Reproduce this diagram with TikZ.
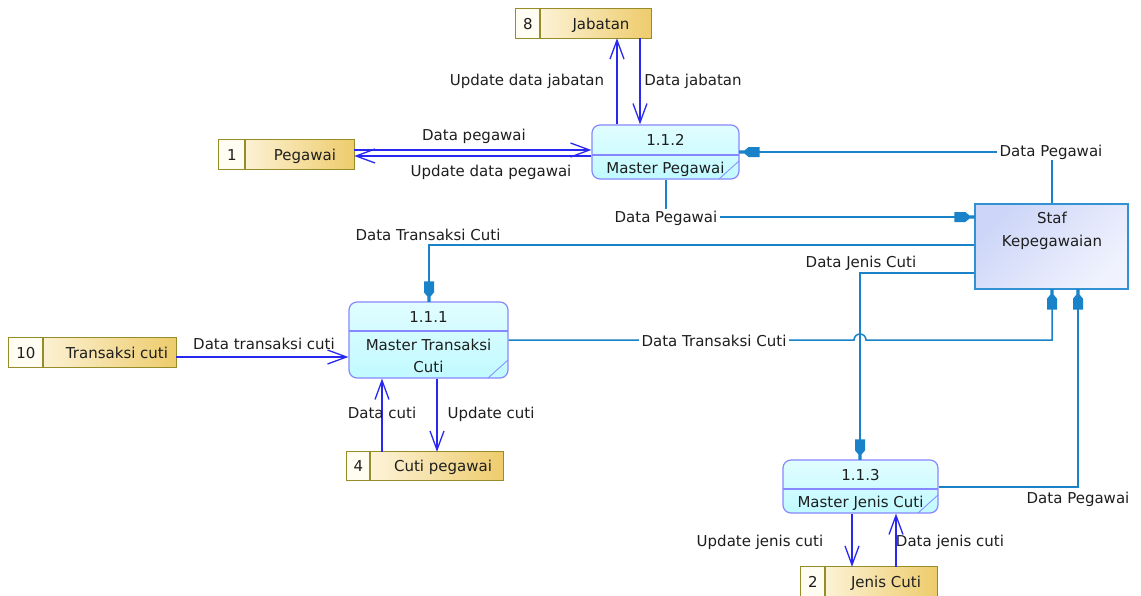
\documentclass[tikz,border=0pt]{standalone}
\usepackage{fontspec}
\setmainfont{DejaVu Sans}
\usetikzlibrary{arrows.meta,calc}

\definecolor{flowblue}{RGB}{40,40,240}
\definecolor{linkteal}{RGB}{25,130,200}
\definecolor{procedge}{RGB}{135,135,255}
\definecolor{procfill}{RGB}{192,250,255}
\definecolor{procfilltop}{RGB}{225,253,255}
\definecolor{storeedge}{RGB}{150,140,40}
\definecolor{storeleft}{RGB}{255,250,236}
\definecolor{storeright}{RGB}{238,204,108}
\definecolor{storenum}{RGB}{255,252,242}
\definecolor{entedge}{RGB}{50,145,210}
\definecolor{entfillA}{RGB}{205,214,248}
\definecolor{entfillB}{RGB}{240,242,253}
\definecolor{ink}{RGB}{30,30,30}

% stepped head of the flows that touch the external entity
\pgfdeclarearrow{
  name = DFDtip,
  setup code = {
    \pgfarrowssettipend{0pt}
    \pgfarrowssetbackend{-20pt}
    \pgfarrowssetlineend{-12pt}
  },
  drawing code = {
    \pgfsetfillcolor{linkteal}
    \pgfpathmoveto{\pgfpoint{0.5pt}{1.6pt}}
    \pgfpathlineto{\pgfpoint{-5pt}{1.6pt}}
    \pgfpathlineto{\pgfpoint{-9pt}{5pt}}
    \pgfpathlineto{\pgfpoint{-20pt}{5pt}}
    \pgfpathlineto{\pgfpoint{-20pt}{-5pt}}
    \pgfpathlineto{\pgfpoint{-9pt}{-5pt}}
    \pgfpathlineto{\pgfpoint{-5pt}{-1.6pt}}
    \pgfpathlineto{\pgfpoint{0.5pt}{-1.6pt}}
    \pgfpathclose
    \pgfusepathqfill
  }
}

\tikzset{
  lbl/.style={font=\fontsize{15}{17}\selectfont, text=ink, inner sep=1.5pt,
              text height=11pt, text depth=0pt},
  wlbl/.style={lbl, fill=white, inner sep=3pt},
  proc/.style={draw=procedge, line width=1.2pt, rounded corners=8pt,
               top color=procfilltop, bottom color=procfill, inner sep=0pt},
  procline/.style={draw=procedge, line width=1.1pt},
  store/.style={left color=storeleft, right color=storeright, inner sep=0pt},
  storeline/.style={draw=storeedge, line width=1.2pt},
  entity/.style={draw=entedge, line width=1.3pt, top color=entfillA,
                 bottom color=entfillB, shading angle=45, inner sep=0pt},
  flow/.style={draw=flowblue, line width=1.6pt,
               -{Straight Barb[length=19pt,width=14pt,line width=1.3pt]}},
  link/.style={draw=linkteal, line width=1.5pt, -DFDtip},
}

% data store: name, x1, y1, x2, y2, divider x, number, label, label x
\newcommand\dstore[9]{%
  \node[store, minimum width={(#4-#2)*1pt}, minimum height={(#5-#3)*1pt}]
       (#1) at ({(#2+#4)/2},{(#3+#5)/2}) {};
  \fill[storenum] (#2,#3) rectangle (#6,#5);
  \draw[storeline] (#1.north west) rectangle (#1.south east);
  \draw[storeline] (#6,#3) -- (#6,#5);
  \node[lbl] (#1-num) at ({(#2+#6)/2},{(#3+#5)/2}) {#7};
  \node[lbl] (#1-txt) at (#9,{(#3+#5)/2}) {#8};
}

% process: name, x1, y1, x2, y2, divider y, number, label, label y
\newcommand\dproc[9]{%
  \node[proc, minimum width={(#4-#2)*1pt}, minimum height={(#5-#3)*1pt}]
       (#1) at ({(#2+#4)/2},{(#3+#5)/2}) {};
  \draw[procline] (#2,#6) -- (#4,#6);
  \draw[procedge, line width=0.8pt] (#4-20,#5) -- (#4,#5-18);
  \node[lbl] (#1-num) at ({(#2+#4)/2},{(#3+#6)/2}) {#7};
  \node[lbl, align=center, font=\fontsize{15}{22}\selectfont]
       (#1-txt) at ({(#2+#4)/2},#9) {#8};
}

\begin{document}
\begin{tikzpicture}[x=1pt, y=-1pt]
\useasboundingbox[fill=white] (0,0) rectangle (1141,595);

% data stores
\dstore{jab}{516}{9}{651}{38}{540}{8}{Jabatan}{601}
\dstore{peg}{219}{140}{354}{169}{245}{1}{Pegawai}{305}
\dstore{trc}{9}{338}{176}{367}{43}{10}{Transaksi cuti}{117}
\dstore{cp}{347}{452}{503}{480}{370}{4}{Cuti pegawai}{443}
\dstore{jc}{801}{567}{937}{597}{825}{2}{Jenis Cuti}{886}

% processes
\dproc{mp}{592}{125}{739}{179}{155}{1.1.2}{Master Pegawai}{168}
\dproc{mt}{349}{302}{508}{378}{331}{1.1.1}{Master Transaksi\\Cuti}{367}
\dproc{mj}{783}{460}{938}{513}{489}{1.1.3}{Master Jenis Cuti}{502}

% external entity
\node[entity, minimum width=153pt, minimum height=85pt]
     (staf) at (1051.5,246.5) {};
\node[lbl, align=center, font=\fontsize{15}{23}\selectfont]
     (staf-txt) at (1052,241) {Staf\\Kepegawaian};

% flows between processes and stores
\draw[flow] (peg.east |- 0,150) -- (mp.west |- 0,150);
\draw[flow] (mp.west |- 0,156) -- (peg.east |- 0,156);
\draw[flow] (mp.north -| 617,0) -- (jab.south -| 617,0);
\draw[flow] (jab.south -| 640,0) -- (mp.north -| 640,0);
\draw[flow] (trc.east |- 0,357) -- (mt.west |- 0,357);
\draw[flow] (cp.north -| 382,0) -- (mt.south -| 382,0);
\draw[flow] (mt.south -| 437,0) -- (cp.north -| 437,0);
\draw[flow] (mj.south -| 852,0) -- (jc.north -| 852,0);
\draw[flow] (jc.north -| 896,0) -- (mj.south -| 896,0);

% flows to and from the external entity
\draw[link] (staf.north -| 1052,0) |- (mp.east |- 0,152);
\draw[link] (mp.south -| 666,0) |- (staf.west |- 0,217);
\draw[link] (staf.west |- 0,245) -| (mt.north -| 429,0);
\draw[link] (staf.west |- 0,273) -| (mj.north -| 860,0);
\draw[link] (mt.east |- 0,340) -- (854,340)
            arc[start angle=180, end angle=0, radius=6pt] -- (1052,340)
            -- (staf.south -| 1052,0);
\draw[link] (mj.east |- 0,487) -| (staf.south -| 1078,0);

% flow labels
\node[lbl] (l-upjab) at (527,80) {Update data jabatan};
\node[lbl] (l-jab) at (693,80) {Data jabatan};
\node[lbl] (l-peg) at (474,135) {Data pegawai};
\node[lbl] (l-uppeg) at (491,171) {Update data pegawai};
\node[lbl] (l-trc) at (264,344) {Data transaksi cuti};
\node[lbl] (l-cuti) at (382,413) {Data cuti};
\node[lbl] (l-upcuti) at (491,413) {Update cuti};
\node[lbl] (l-upjc) at (760,541) {Update jenis cuti};
\node[lbl] (l-jc) at (950,541) {Data jenis cuti};

\node[wlbl] (k-peg1) at (1051,151) {Data Pegawai};
\node[wlbl] (k-peg2) at (666,217) {Data Pegawai};
\node[lbl] (k-trc1) at (428,235) {Data Transaksi Cuti};
\node[lbl] (k-jc) at (861,262) {Data Jenis Cuti};
\node[wlbl] (k-trc2) at (714,341) {Data Transaksi Cuti};
\node[lbl] (k-peg3) at (1078,498) {Data Pegawai};
\end{tikzpicture}
\end{document}
